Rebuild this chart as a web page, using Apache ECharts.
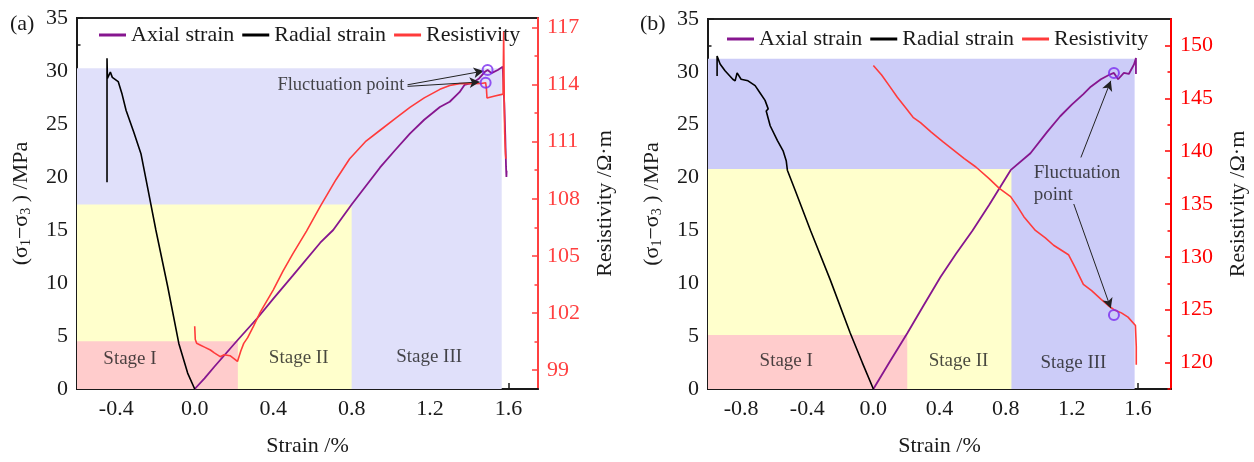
<!DOCTYPE html>
<html>
<head>
<meta charset="utf-8">
<title>Stress, strain and resistivity</title>
<script src="https://cdn.jsdelivr.net/npm/echarts@6.0.0/dist/echarts.min.js"></script>
<style>
  html, body { margin: 0; padding: 0; background: #fff; }
  #main { width: 1254px; height: 462px; }
</style>
</head>
<body>
<div id="main"></div>
<script>
// ---------- panel (a) ----------
var axialA = [[0,0],[0.05,1.0],[0.1,2.1],[0.218,4.6],[0.32,6.7],[0.4,8.5],[0.5,10.7],[0.64,13.8],[0.706,15.0],
  [0.8,17.4],[0.945,20.9],[1.02,22.5],[1.097,24.1],[1.17,25.4],[1.25,26.6],[1.30,27.1],[1.35,28.0],[1.376,28.7],
  [1.417,28.9],[1.45,29.3],[1.478,29.9],[1.493,30.1],[1.513,29.8],[1.545,30.1],[1.57,30.4],[1.578,27.0],
  [1.583,24.0],[1.587,21.0],[1.589,20.0],[1.59,20.6]];
var radialA = [[0,0],[-0.005,0.1],[-0.036,1.5],[-0.081,4.3],[-0.137,9.6],[-0.198,15.0],[-0.24,19.0],[-0.274,22.2],
  [-0.31,24.2],[-0.35,26.3],[-0.37,27.8],[-0.39,29.0],[-0.42,29.4],[-0.43,29.9],[-0.445,29.3],[-0.447,31.2],[-0.447,19.5]];
var resistA = [[0.0,101.3],[0.003,100.6],[0.01,100.4],[0.03,100.3],[0.05,100.2],[0.08,100.05],[0.1,99.9],[0.13,99.7],
  [0.15,99.8],[0.18,99.75],[0.2,99.6],[0.218,99.45],[0.235,100.0],[0.25,100.4],[0.27,100.7],[0.30,101.3],[0.335,102.05],
  [0.4,103.2],[0.45,104.2],[0.5,105.1],[0.57,106.3],[0.64,107.6],[0.72,109.0],[0.79,110.1],[0.87,111.0],[0.945,111.6],
  [1.02,112.2],[1.097,112.8],[1.17,113.3],[1.25,113.75],[1.30,113.95],[1.35,114.05],[1.42,114.05],[1.46,114.06],
  [1.483,114.1],[1.487,113.8],[1.49,113.3],[1.53,113.4],[1.572,113.5],[1.575,116.8],[1.578,113.0],[1.58,111.5],
  [1.584,110.4],[1.586,110.1]];
var stageEndA = [0.22, 0.80, 1.565];
var stageTopA = [4.5, 17.4, 30.25];
var fluctStressA = [[1.493, 30.1]];
var fluctResistA = [[1.483, 114.1]];

// ---------- panel (b) ----------
var axialB = [[0,0],[0.1,2.6],[0.206,5.3],[0.3,7.8],[0.406,10.6],[0.5,12.8],[0.6,15.0],[0.7,17.4],[0.83,20.7],
  [0.95,22.3],[1.05,24.3],[1.13,25.8],[1.2,26.9],[1.27,27.9],[1.315,28.6],[1.376,29.3],[1.424,29.7],[1.455,29.9],
  [1.48,29.3],[1.515,29.9],[1.545,29.8],[1.576,30.7],[1.588,31.3],[1.588,29.8]];
var radialB = [[0,0],[-0.067,2.5],[-0.14,5.3],[-0.26,10.3],[-0.38,15.0],[-0.473,18.8],[-0.52,20.7],[-0.527,21.6],
  [-0.545,22.5],[-0.58,23.5],[-0.624,24.9],[-0.648,26.3],[-0.636,26.5],[-0.655,27.3],[-0.685,28.0],[-0.715,28.7],
  [-0.758,29.15],[-0.80,29.3],[-0.824,29.9],[-0.836,29.15],[-0.85,29.3],[-0.897,30.1],[-0.927,30.75],[-0.945,31.5],[-0.945,29.6]];
var resistB = [[0,148.1],[0.05,147.2],[0.1,146.1],[0.145,145.1],[0.2,144.0],[0.24,143.2],[0.285,142.7],[0.35,141.8],
  [0.42,140.9],[0.485,140.1],[0.55,139.3],[0.62,138.5],[0.7,137.4],[0.76,136.5],[0.83,135.7],[0.87,134.8],[0.91,133.8],
  [0.98,132.5],[1.04,131.8],[1.09,131.1],[1.18,130.2],[1.22,129.0],[1.27,127.4],[1.32,126.8],[1.376,126.0],[1.42,125.4],
  [1.455,125.0],[1.5,124.7],[1.54,124.3],[1.585,123.5],[1.59,121.5],[1.59,119.8]];
var stageEndB = [0.205, 0.835, 1.58];
var stageTopB = [5.1, 20.8, 31.25];
var fluctStressB = [[1.455, 29.9]];
var fluctResistB = [[1.455, 124.5]];

// ---------- ticks ----------
var xTicksA = [-0.4, 0, 0.4, 0.8, 1.2, 1.6];
var xMinorA = [-0.2, 0.2, 0.6, 1.0, 1.4];
var xTicksB = [-0.8, -0.4, 0, 0.4, 0.8, 1.2, 1.6];
var xMinorB = [-0.6, -0.2, 0.2, 0.6, 1.0, 1.4];
var resTicksA = [99, 102, 105, 108, 111, 114, 117];
var resMinorA = [100.5, 103.5, 106.5, 109.5, 112.5, 115.5];
var resTicksB = [120, 125, 130, 135, 140, 145, 150];
var resMinorB = [117.5, 122.5, 127.5, 132.5, 137.5, 142.5, 147.5];
var stageNames = ['Stage I', 'Stage II', 'Stage III'];

var FONT = "'Liberation Serif', 'Times New Roman', serif";
var INK = '#1a1a1a';
var PURPLE = '#86168f';
var stageColorsA = ['#ffcccc', '#ffffcc', '#e0e0fa'];
var stageColorsB = ['#ffcccc', '#ffffcc', '#ccccf8'];

var myChart = echarts.init(document.getElementById('main'));

function xPair(grid, min, max, major, minor) {
  return [{
    type: 'value', gridIndex: grid, min: min, max: max, position: 'bottom',
    name: 'Strain /%', nameLocation: 'middle', nameGap: 46,
    nameTextStyle: { fontFamily: FONT, fontSize: 22, color: INK },
    axisLine: { onZero: false, lineStyle: { color: INK, width: 2 } },
    axisTick: { inside: true, length: 6, customValues: major, lineStyle: { color: INK, width: 1.5 } },
    axisLabel: { customValues: major, margin: 9, fontFamily: FONT, fontSize: 22, color: INK,
      formatter: function (v) { return v.toFixed(1); } },
    splitLine: { show: false }
  }, {
    type: 'value', gridIndex: grid, min: min, max: max, position: 'bottom',
    axisLine: { show: false, onZero: false },
    axisTick: { inside: true, length: 3.5, customValues: minor, lineStyle: { color: INK, width: 1.5 } },
    axisLabel: { show: false }, splitLine: { show: false }
  }];
}

function stressAxis(grid, gap) {
  return {
    type: 'value', gridIndex: grid, min: 0, max: 35, interval: 5, position: 'left',
    name: '(σ{s|1}−σ{s|3} ) /MPa', nameLocation: 'middle', nameGap: gap,
    nameTextStyle: { fontFamily: FONT, fontSize: 22, color: INK,
      rich: { s: { fontFamily: FONT, fontSize: 14, color: INK, padding: [10, 0, 0, 0] } } },
    axisLine: { show: true, onZero: false, lineStyle: { color: INK, width: 2 } },
    axisTick: { inside: true, length: 6, lineStyle: { color: INK, width: 1.5 } },
    minorTick: { show: true, splitNumber: 2, length: 3.5, lineStyle: { color: INK, width: 1.5 } },
    axisLabel: { margin: 9, fontFamily: FONT, fontSize: 22, color: INK },
    splitLine: { show: false }
  };
}

function resistPair(grid, min, max, major, minor, color) {
  return [{
    type: 'value', gridIndex: grid, min: min, max: max, position: 'right',
    name: 'Resistivity /Ω·m', nameLocation: 'middle', nameGap: 56,
    nameTextStyle: { fontFamily: FONT, fontSize: 22, color: INK },
    axisLine: { show: true, onZero: false, lineStyle: { color: color, width: 2 } },
    axisTick: { inside: true, length: 6, customValues: major, lineStyle: { color: color, width: 1.5 } },
    axisLabel: { customValues: major, margin: 9, fontFamily: FONT, fontSize: 22, color: color },
    splitLine: { show: false }
  }, {
    type: 'value', gridIndex: grid, min: min, max: max, position: 'right',
    axisLine: { show: false, onZero: false },
    axisTick: { inside: true, length: 3.5, customValues: minor, lineStyle: { color: color, width: 1.5 } },
    axisLabel: { show: false }, splitLine: { show: false }
  }];
}

function stageAreas(xmin, ends, tops, colors) {
  var out = [];
  for (var i = ends.length - 1; i >= 0; i--) {
    out.push([{ coord: [xmin, 0], itemStyle: { color: colors[i] } }, { coord: [ends[i], tops[i]] }]);
  }
  return out;
}

function lineSeries(name, data, xi, yi, color, width) {
  return {
    name: name, type: 'line', data: data, xAxisIndex: xi, yAxisIndex: yi,
    showSymbol: false, symbol: 'none', color: color, z: 3,
    lineStyle: { color: color, width: width }
  };
}

function circles(data, xi, yi) {
  return {
    type: 'scatter', data: data, xAxisIndex: xi, yAxisIndex: yi, symbol: 'circle', symbolSize: 10,
    itemStyle: { color: 'rgba(0,0,0,0)', borderColor: '#7a2cf0', borderWidth: 2 }, z: 5, silent: true
  };
}

function notes(items, xi, yi, size, pos) {
  return {
    type: 'scatter', xAxisIndex: xi, yAxisIndex: yi, symbolSize: 0, silent: true, z: 6,
    data: items,
    label: { show: true, position: pos, distance: 0, formatter: '{b}', fontFamily: FONT, fontSize: size,
      color: INK, lineHeight: 22 }
  };
}

function arrows(pairs, xi, yi) {
  return {
    type: 'line', data: [], xAxisIndex: xi, yAxisIndex: yi, z: 5,
    markLine: {
      silent: true, symbol: ['none', 'arrow'], symbolSize: [8, 10], label: { show: false },
      lineStyle: { color: '#222', width: 1, type: 'solid' },
      data: pairs.map(function (p) { return [{ coord: p[0] }, { coord: p[1] }]; })
    }
  };
}

var legendNames = ['Axial strain', 'Radial strain', 'Resistivity'];
function legendAt(left, top) {
  return {
    left: left, top: top, data: legendNames, icon: 'rect', itemWidth: 27, itemHeight: 3, itemGap: 8,
    selectedMode: false, textStyle: { fontFamily: FONT, fontSize: 22, color: INK }
  };
}

var xA = xPair(0, -0.6, 1.75, xTicksA, xMinorA);
var xB = xPair(1, -1.0, 1.8, xTicksB, xMinorB);
var rA = resistPair(0, 98, 117.5, resTicksA, resMinorA, '#ff4040');
var rB = resistPair(1, 117.5, 152.5, resTicksB, resMinorB, '#ff0000');

myChart.setOption({
  animation: false,
  title: [
    { text: '(a)', left: 5, top: 8, textStyle: { fontFamily: FONT, fontSize: 22, fontWeight: 'normal', color: INK } },
    { text: '(b)', left: 635, top: 8, textStyle: { fontFamily: FONT, fontSize: 22, fontWeight: 'normal', color: INK } }
  ],
  legend: [legendAt(94, 19), legendAt(722, 23)],
  grid: [
    { left: 77, top: 18, width: 461, height: 371, show: true, borderColor: '#222', borderWidth: 2, backgroundColor: 'transparent' },
    { left: 708, top: 19, width: 463, height: 370, show: true, borderColor: '#222', borderWidth: 2, backgroundColor: 'transparent' }
  ],
  xAxis: [xA[0], xA[1], xB[0], xB[1]],
  yAxis: [stressAxis(0, 44), rA[0], rA[1], stressAxis(1, 44), rB[0], rB[1]],
  series: [
    // stage backgrounds
    { type: 'line', data: [], xAxisIndex: 0, yAxisIndex: 0, z: 1,
      markArea: { silent: true, data: stageAreas(-0.6, stageEndA, stageTopA, stageColorsA) } },
    { type: 'line', data: [], xAxisIndex: 2, yAxisIndex: 3, z: 1,
      markArea: { silent: true, data: stageAreas(-1.0, stageEndB, stageTopB, stageColorsB) } },

    lineSeries('Axial strain', axialA, 0, 0, PURPLE, 1.8),
    lineSeries('Radial strain', radialA, 0, 0, '#000000', 1.6),
    lineSeries('Resistivity', resistA, 0, 1, '#ff3b3b', 1.6),
    lineSeries('Axial strain', axialB, 2, 3, PURPLE, 1.8),
    lineSeries('Radial strain', radialB, 2, 3, '#000000', 1.6),
    lineSeries('Resistivity', resistB, 2, 4, '#ff3b3b', 1.6),

    circles(fluctStressA, 0, 0),
    circles(fluctResistA, 0, 1),
    circles(fluctStressB, 2, 3),
    circles(fluctResistB, 2, 4),

    arrows([[[1.085, 28.7], [1.473, 30.0]], [[1.085, 28.55], [1.452, 28.96]]], 0, 0),
    arrows([[[1.255, 21.9], [1.436, 29.15]], [[1.212, 17.5], [1.436, 7.64]]], 2, 3),

    notes([
      { name: stageNames[0], value: [-0.33, 2.8] },
      { name: stageNames[1], value: [0.53, 2.9] },
      { name: stageNames[2], value: [1.195, 3.0] }
    ], 0, 0, 19, 'inside'),
    notes([
      { name: stageNames[0], value: [-0.527, 2.6] },
      { name: stageNames[1], value: [0.515, 2.6] },
      { name: stageNames[2], value: [1.21, 2.5] }
    ], 2, 3, 19, 'inside'),
    notes([{ name: 'Fluctuation point', value: [0.745, 28.7] }], 0, 0, 18.5, 'inside'),
    notes([{ name: 'Fluctuation\npoint', value: [0.97, 19.4] }], 2, 3, 19, 'right')
  ]
});
</script>
</body>
</html>
